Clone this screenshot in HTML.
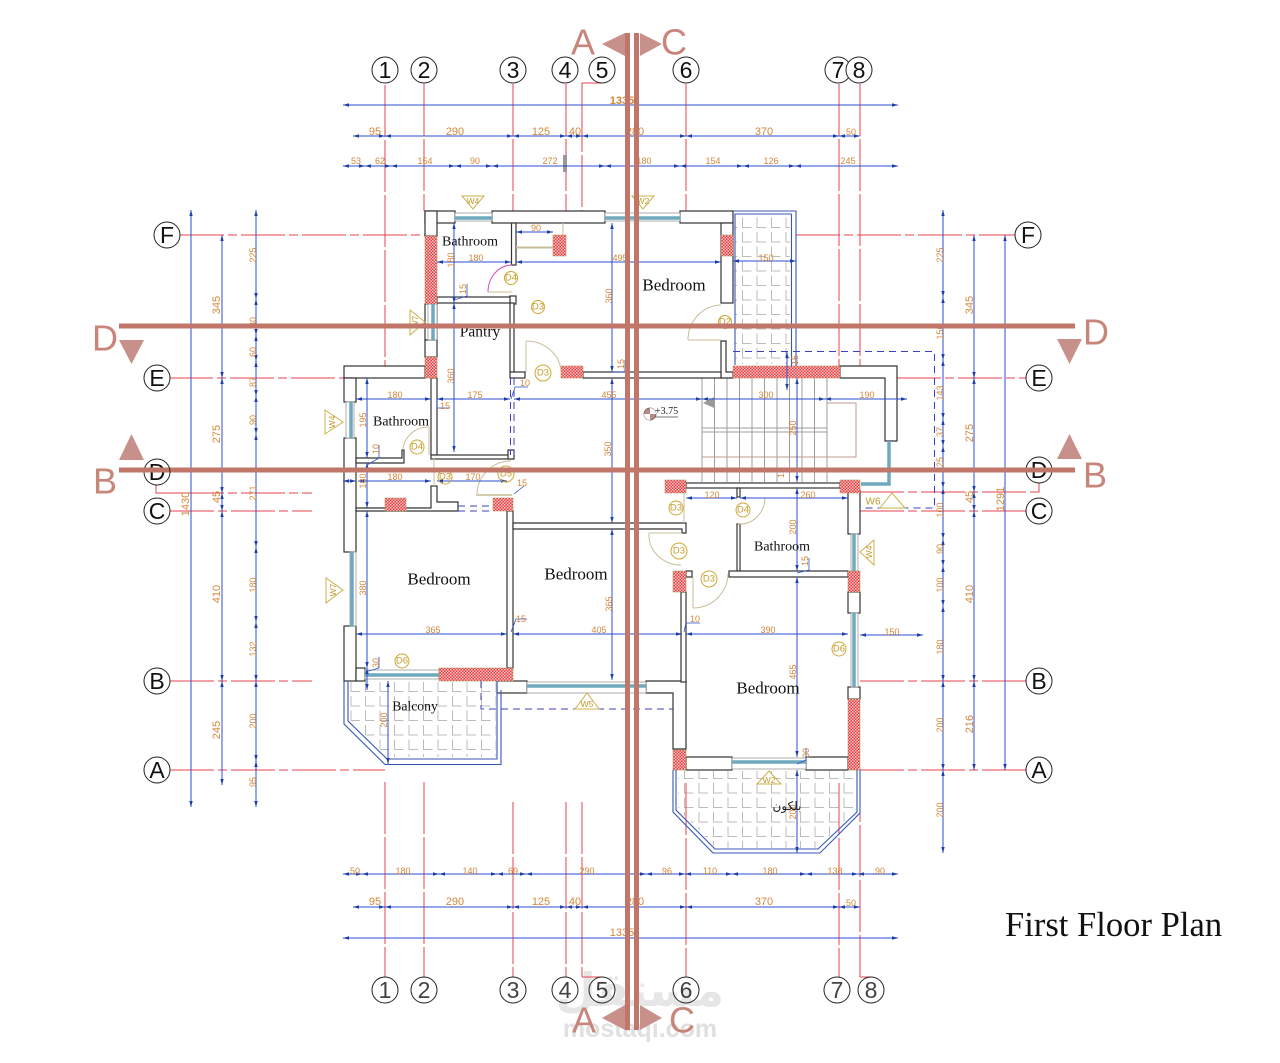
<!DOCTYPE html>
<html><head><meta charset="utf-8"><style>
html,body{margin:0;padding:0;background:#fff}
svg{display:block}
text{font-family:"Liberation Sans",sans-serif}
.g line,.g polyline{stroke:#e8404f;stroke-width:1;fill:none;stroke-dasharray:44 4 9 4}
.g.vv line{stroke-dasharray:52 3}
.g polyline.s,.g line.s{stroke-dasharray:none}
.d line{stroke:#2b4fd2;stroke-width:1;marker-start:url(#a);marker-end:url(#a)}
.v text,.vl text{fill:#d4873a;text-anchor:middle;dominant-baseline:central}
.v text{font-size:9px}
.vl text{font-size:11px}
.gc circle{fill:#fff;stroke:#222;stroke-width:1}
.gc text{font-size:23px;fill:#111;text-anchor:middle;dominant-baseline:central}
.w rect,.w path{fill:#fff;stroke:#333;stroke-width:1.2}
.b rect{fill:url(#brick);stroke:#a88850;stroke-width:.5}
.win line,.win polyline{stroke:#6fa9bd;stroke-width:3.5;fill:none}
.win2 rect{fill:#fff;stroke:#999;stroke-width:.8}
.bal{fill:none;stroke:#3457b8;stroke-width:1.1}
.door path,.door line{fill:none;stroke:#c9bd98;stroke-width:1}
.tag circle{fill:none;stroke:#cda935;stroke-width:1}
.tag text{font-size:9.5px;fill:#c69c2c;text-anchor:middle;dominant-baseline:central}
.tri polygon{fill:#fff;stroke:#cbb04a;stroke-width:1}
.tri text{font-size:8.5px;fill:#c39a2c;text-anchor:middle;dominant-baseline:central}
.room text{font-family:"Liberation Serif",serif;fill:#111;text-anchor:middle;dominant-baseline:central}
.sec{fill:#c0776a}
.tr{fill:#c8908a}
.st text{font-size:36px;fill:#c8857a;text-anchor:middle;dominant-baseline:central}
.lead polyline{fill:none;stroke:#2b4fd2;stroke-width:.8}
</style></head><body>
<svg width="1280" height="1063" viewBox="0 0 1280 1063" xmlns="http://www.w3.org/2000/svg">
<defs>
<marker id="a" markerUnits="userSpaceOnUse" markerWidth="6" markerHeight="4" refX="6" refY="2" orient="auto-start-reverse"><path d="M0,0.3 L6,2 L0,3.7 z" fill="#1f3fa8"/></marker>
<pattern id="brick" width="3" height="3" patternUnits="userSpaceOnUse"><rect width="3" height="3" fill="#e63a3e"/><rect x="0" y="0" width="1.4" height="1.4" fill="#ffd8d8"/><rect x="1.5" y="1.5" width="1.4" height="1.4" fill="#ffd8d8"/></pattern>
<pattern id="tile" width="14.5" height="14.5" patternUnits="userSpaceOnUse"><path d="M3,0 V10 H12" fill="none" stroke="#bcbcbc" stroke-width="1"/></pattern>
</defs>
<rect width="1280" height="1063" fill="#fff"/>

<!-- watermark -->
<text x="640" y="1006" font-size="46" font-weight="bold" text-anchor="middle" fill="#e6e6e6" style="font-family:'DejaVu Sans',sans-serif">مستقل</text>
<text x="640" y="1037" font-size="25" font-weight="bold" text-anchor="middle" fill="#e0e0e0">mostaqi.com</text>

<!-- balcony tiles -->
<rect x="735" y="214" width="55" height="150" fill="url(#tile)"/>
<polygon points="350,682 350,720 388,757 496,757 496,682" fill="url(#tile)"/>
<polygon points="678,771 678,809 716,848 817,848 855,811 855,771" fill="url(#tile)"/>

<!-- grid lines -->
<g class="g vv">
<line x1="385" y1="85" x2="385" y2="366"/><line x1="424" y1="84" x2="424" y2="211"/><line x1="513" y1="84" x2="513" y2="211"/><line x1="566" y1="84" x2="566" y2="211"/><polyline class="s" points="602,83 582,83 582,100"/><line x1="582" y1="100" x2="582" y2="211"/><line x1="686" y1="84" x2="686" y2="211"/><line x1="839" y1="84" x2="839" y2="366"/><line x1="860" y1="84" x2="860" y2="366"/>
<line x1="385" y1="782" x2="385" y2="977"/><line x1="424" y1="782" x2="424" y2="977"/><line x1="513" y1="802" x2="513" y2="977"/><line x1="566" y1="802" x2="566" y2="977"/><line x1="582" y1="802" x2="582" y2="977"/><polyline class="s" points="582,977 602,977"/><line x1="686" y1="783" x2="686" y2="977"/><line x1="839" y1="783" x2="839" y2="977"/><line x1="860" y1="770" x2="860" y2="977"/><polyline class="s" points="860,977 872,977"/>
</g>
<g class="g">
<line x1="180" y1="235" x2="425" y2="235"/><line x1="796" y1="235" x2="1015" y2="235"/>
<line x1="169" y1="378" x2="344" y2="378"/><line x1="897" y1="378" x2="1027" y2="378"/>
<polyline class="s" points="156,485 156,493 180,493"/><line x1="180" y1="493" x2="312" y2="493"/><line x1="860" y1="492" x2="1030" y2="492"/><polyline class="s" points="1030,492 1039,492 1039,483"/>
<line x1="170" y1="511" x2="312" y2="511"/><line x1="860" y1="511" x2="1027" y2="511"/>
<line x1="170" y1="681" x2="312" y2="681"/><line x1="860" y1="681" x2="1027" y2="681"/>
<line x1="170" y1="770" x2="385" y2="770"/><line x1="860" y1="770" x2="1027" y2="770"/>
</g>

<!-- stairs -->
<g stroke="#a29d98" stroke-width="1" fill="none">
<path d="M702,378V482M714.5,378V482M727,378V482M739.5,378V482M752,378V482M764.5,378V482M777,378V482M789.5,378V482M802,378V482M814.5,378V482M827,378V482"/>
<path d="M702,428H827M702,432H827"/>
<path stroke="#bd9c92" d="M827,403H856V457H702"/>
</g>
<polygon points="703,403 714,397 714,408" fill="#9a9a9a"/>

<!-- walls -->
<g class="w">
<rect x="425" y="211" width="30" height="12"/><rect x="492" y="211" width="113" height="12"/><rect x="680" y="211" width="53" height="12"/>
<rect x="425" y="211" width="12" height="25"/>
<rect x="721" y="223" width="12" height="80"/>
<path d="M721,341H726V372H733V378H721z"/>
<rect x="511.5" y="223" width="4.5" height="42"/>
<rect x="437" y="297" width="74" height="6"/><rect x="510" y="296" width="6" height="8"/>
<rect x="510" y="303" width="4" height="69"/>
<rect x="510" y="372" width="15" height="6"/>
<rect x="583" y="372" width="138" height="6"/>
<rect x="425" y="304" width="12" height="36" fill="#fff"/>
<rect x="425" y="340" width="12" height="17"/>
<rect x="431" y="378" width="6" height="77"/>
<rect x="431" y="455" width="82" height="4"/><rect x="508" y="450" width="6" height="9"/>
<rect x="344" y="366" width="81" height="12"/>
<rect x="344" y="378" width="12" height="24"/>
<rect x="344" y="438" width="12" height="114"/>
<path d="M356,458H402V450H404V463H356z"/>
<path d="M431,486H437V502H458V511H356V508H431z"/>
<rect x="344" y="626" width="12" height="55"/><rect x="356" y="668" width="9" height="13"/>
<rect x="507" y="511" width="6" height="157"/>
<path d="M513,523H686V533H682V529H513z"/>
<rect x="497" y="681" width="30" height="12"/>
<path d="M646,681H686V749H673V693H646z"/>
<rect x="681" y="592" width="5" height="90"/>
<rect x="686" y="757" width="46" height="13"/><rect x="806" y="757" width="42" height="13"/>
<rect x="686" y="483" width="154" height="5"/>
<rect x="737" y="488" width="3" height="9"/><rect x="737" y="524" width="3" height="47"/>
<rect x="729" y="571" width="119" height="6"/>
<rect x="686" y="571" width="6" height="6"/>
<rect x="848" y="490" width="12" height="44"/>
<rect x="848" y="592" width="12" height="21"/><rect x="848" y="687" width="12" height="12"/>
<path d="M840,366H897V441H885V378H840z"/>
</g>
<!-- windows -->
<g class="win2">
<rect x="455" y="213" width="37" height="8"/><rect x="605" y="213" width="75" height="8"/>
<rect x="428" y="304" width="9" height="36"/><rect x="346" y="402" width="8" height="36"/><rect x="350" y="552" width="6" height="74"/>
<rect x="365" y="670" width="74" height="9"/><rect x="527" y="682" width="119" height="11"/><rect x="732" y="758" width="74" height="11"/>
<rect x="851" y="534" width="7" height="37"/><rect x="851" y="613" width="7" height="74"/>
</g>
<g class="win">
<line x1="455" y1="218" x2="492" y2="218"/><line x1="605" y1="218" x2="680" y2="218"/>
<line x1="433" y1="304" x2="433" y2="340"/><line x1="351" y1="402" x2="351" y2="438"/><line x1="352" y1="552" x2="352" y2="626"/>
<line x1="365" y1="675" x2="439" y2="675"/><line x1="527" y1="686" x2="646" y2="686"/><line x1="732" y1="762" x2="806" y2="762"/>
<line x1="854" y1="534" x2="854" y2="571"/><line x1="854" y1="613" x2="854" y2="687"/>
<polyline points="889,441 889,484 861,484"/>
</g>
<!-- bricks -->
<g class="b">
<rect x="425" y="236" width="12" height="68"/><rect x="425" y="357" width="12" height="21"/>
<rect x="553" y="235" width="13" height="21"/><rect x="721" y="235" width="12" height="21"/>
<rect x="561" y="366" width="22" height="12"/><rect x="733" y="366" width="107" height="12"/>
<rect x="385" y="498" width="21" height="13"/><rect x="493" y="498" width="20" height="13"/>
<rect x="439" y="668" width="74" height="13"/>
<rect x="665" y="480" width="21" height="13"/><rect x="840" y="480" width="20" height="13"/>
<rect x="673" y="571" width="13" height="21"/><rect x="673" y="750" width="13" height="20"/>
<rect x="848" y="571" width="12" height="21"/><rect x="848" y="699" width="12" height="71"/>
</g>
<!-- balconies outline -->
<path class="bal" d="M733,211H796V366M791.5,214H735V365M791.5,214V366"/>
<path class="bal" d="M344,681V724L385,764.5H501V690M348,681V721L387,759H497V681"/>
<path class="bal" d="M673,770V812L713,853H820L860,813V770M676,770V810L715,849H818L857,812V770"/>
<!-- dashed -->
<g fill="none" stroke="#3b3fc0" stroke-width="1" stroke-dasharray="7 5">
<path d="M733,351.5H934.5V508H860"/>
<path d="M481,681V709H673"/>
<path d="M510.5,378V455M514,378V455"/>
<path d="M458,506H493M458,511H493"/>
</g>
<!-- doors -->
<g class="door">
<path d="M488,292A24,27 0 0 1 512,265" style="stroke:#c94fc0"/><line x1="488" y1="292" x2="512" y2="292"/>
<path d="M526,341A35,32 0 0 1 561,372"/><line x1="526" y1="341" x2="526" y2="372"/>
<path d="M721,305A34,35 0 0 0 688,340"/><line x1="688" y1="340" x2="721" y2="340"/>
<path d="M403,450A26,24 0 0 1 429,427"/><line x1="429" y1="427" x2="429" y2="455"/>
<line x1="434" y1="458" x2="434" y2="486"/>
<path d="M477,494A34,34 0 0 1 511,461"/><line x1="476" y1="495" x2="512" y2="495" style="stroke:#a89a60"/>
<path d="M516,248H553M563,223V235M553,247H516"/>
<path d="M649,533A32,30 0 0 0 681,565"/>
<line x1="649" y1="533" x2="682" y2="533"/>
<path d="M693,608A35,35 0 0 0 728,574"/><line x1="693" y1="577" x2="693" y2="608"/>
<path d="M765,498A25,27 0 0 1 738,524"/>
<line x1="684" y1="493" x2="684" y2="523"/>
</g>
<!-- dimensions horizontal -->
<g class="d">
<line x1="343" y1="105" x2="898" y2="105"/>
<line x1="353" y1="136" x2="385" y2="136"/><line x1="385" y1="136" x2="513" y2="136"/><line x1="513" y1="136" x2="566" y2="136"/><line x1="566" y1="136" x2="582" y2="136"/><line x1="582" y1="136" x2="686" y2="136"/><line x1="686" y1="136" x2="839" y2="136"/><line x1="839" y1="136" x2="860" y2="136"/>
<line x1="343" y1="166" x2="365" y2="166"/><line x1="365" y1="166" x2="391" y2="166"/><line x1="391" y1="166" x2="455" y2="166"/><line x1="455" y1="166" x2="492" y2="166"/><line x1="492" y1="166" x2="605" y2="166"/><line x1="605" y1="166" x2="680" y2="166"/><line x1="680" y1="166" x2="743" y2="166"/><line x1="743" y1="166" x2="795" y2="166"/><line x1="795" y1="166" x2="898" y2="166"/>
<line x1="343" y1="874" x2="362" y2="874"/><line x1="362" y1="874" x2="439" y2="874"/><line x1="439" y1="874" x2="497" y2="874"/><line x1="497" y1="874" x2="526" y2="874"/><line x1="526" y1="874" x2="646" y2="874"/><line x1="646" y1="874" x2="685" y2="874"/><line x1="685" y1="874" x2="732" y2="874"/><line x1="732" y1="874" x2="806" y2="874"/><line x1="806" y1="874" x2="858" y2="874"/><line x1="858" y1="874" x2="898" y2="874"/>
<line x1="353" y1="907" x2="385" y2="907"/><line x1="385" y1="907" x2="513" y2="907"/><line x1="513" y1="907" x2="566" y2="907"/><line x1="566" y1="907" x2="582" y2="907"/><line x1="582" y1="907" x2="686" y2="907"/><line x1="686" y1="907" x2="839" y2="907"/><line x1="839" y1="907" x2="860" y2="907"/>
<line x1="343" y1="938" x2="898" y2="938"/>
<!-- left verticals -->
<line x1="191" y1="210" x2="191" y2="807"/>
<line x1="222" y1="235" x2="222" y2="378"/><line x1="222" y1="378" x2="222" y2="493"/><line x1="222" y1="493" x2="222" y2="511"/><line x1="222" y1="511" x2="222" y2="681"/><line x1="222" y1="681" x2="222" y2="785"/>
<line x1="256" y1="210" x2="256" y2="299"/><line x1="256" y1="299" x2="256" y2="335"/><line x1="256" y1="335" x2="256" y2="361"/><line x1="256" y1="361" x2="256" y2="396"/><line x1="256" y1="396" x2="256" y2="434"/><line x1="256" y1="434" x2="256" y2="547"/><line x1="256" y1="547" x2="256" y2="622"/><line x1="256" y1="622" x2="256" y2="681"/><line x1="256" y1="681" x2="256" y2="761"/><line x1="256" y1="761" x2="256" y2="807"/>
<!-- right verticals -->
<line x1="943" y1="210" x2="943" y2="297"/><line x1="943" y1="297" x2="943" y2="360"/><line x1="943" y1="360" x2="943" y2="419"/><line x1="943" y1="419" x2="943" y2="446"/><line x1="943" y1="446" x2="943" y2="488"/><line x1="943" y1="488" x2="943" y2="539"/><line x1="943" y1="539" x2="943" y2="566"/><line x1="943" y1="566" x2="943" y2="606"/><line x1="943" y1="606" x2="943" y2="681"/><line x1="943" y1="681" x2="943" y2="770"/><line x1="943" y1="770" x2="943" y2="853"/>
<line x1="974" y1="235" x2="974" y2="378"/><line x1="974" y1="378" x2="974" y2="492"/><line x1="974" y1="492" x2="974" y2="511"/><line x1="974" y1="511" x2="974" y2="681"/><line x1="974" y1="681" x2="974" y2="770"/>
<line x1="1005" y1="235" x2="1005" y2="770"/>
<!-- interior -->
<line x1="437" y1="262" x2="511" y2="262"/><line x1="516" y1="262" x2="721" y2="262"/><line x1="733" y1="261" x2="796" y2="261"/>
<line x1="516" y1="232" x2="553" y2="232"/>
<line x1="454" y1="223" x2="454" y2="303"/><line x1="454" y1="303" x2="454" y2="452"/>
<line x1="612" y1="223" x2="612" y2="372"/><line x1="612" y1="378" x2="612" y2="523"/><line x1="612" y1="529" x2="612" y2="680"/>
<line x1="356" y1="399" x2="431" y2="399"/><line x1="437" y1="399" x2="510" y2="399"/><line x1="514" y1="399" x2="702" y2="399"/><line x1="702" y1="399" x2="825" y2="399"/><line x1="825" y1="399" x2="907" y2="399"/>
<line x1="367" y1="378" x2="367" y2="458"/><line x1="367" y1="463" x2="367" y2="508"/><line x1="367" y1="511" x2="367" y2="668"/><line x1="367" y1="668" x2="367" y2="690"/>
<line x1="343" y1="481" x2="356" y2="481"/><line x1="358" y1="481" x2="431" y2="481"/><line x1="437" y1="481" x2="507" y2="481"/>
<line x1="356" y1="634" x2="507" y2="634"/><line x1="513" y1="634" x2="682" y2="634"/><line x1="686" y1="634" x2="848" y2="634"/>
<line x1="860" y1="635" x2="923" y2="635"/>
<line x1="388" y1="681" x2="388" y2="764"/>
<line x1="797" y1="378" x2="797" y2="482"/><line x1="797" y1="488" x2="797" y2="571"/><line x1="797" y1="577" x2="797" y2="757"/><line x1="797" y1="770" x2="797" y2="853"/>
<line x1="787" y1="352" x2="787" y2="390"/>
<line x1="686" y1="498" x2="737" y2="498"/><line x1="740" y1="498" x2="848" y2="498"/>
</g>
<line x1="564" y1="155" x2="564" y2="172" stroke="#333"/><line x1="566" y1="155" x2="566" y2="172" stroke="#333"/>
<g class="lead">
<polyline points="454,300 467,296 467,284"/><polyline points="612,372 625,372 625,360"/>
<polyline points="511,399 515,387 528,387"/><polyline points="437,399 437,408 450,408"/>
<polyline points="367,465 379,458 379,445"/><polyline points="514,494 524,486"/>
<polyline points="511,632 516,619 527,619"/><polyline points="684,632 686,623 700,623"/>
<polyline points="365,672 379,668 379,657"/><polyline points="797,573 809,570 809,558"/>
<polyline points="797,764 806,760 806,748"/>
</g>

<!-- small dimension text -->
<g class="v">
<text x="356" y="161">53</text><text x="380" y="161">62</text><text x="425" y="161">154</text><text x="475" y="161">90</text><text x="550" y="161">272</text><text x="644" y="161">180</text><text x="713" y="161">154</text><text x="771" y="161">126</text><text x="848" y="161">245</text>
<text x="355" y="871">50</text><text x="403" y="871">180</text><text x="470" y="871">140</text><text x="513" y="871">69</text><text x="587" y="871">290</text><text x="667" y="871">96</text><text x="710" y="871">110</text><text x="770" y="871">180</text><text x="835" y="871">138</text><text x="880" y="871">90</text>
<text x="851" y="132">50</text><text x="851" y="903">50</text>
<text x="476" y="258">180</text><text x="620" y="258">495</text><text x="766" y="258">150</text><text x="536" y="228">90</text>
<text x="395" y="395">180</text><text x="475" y="395">175</text><text x="609" y="395">455</text><text x="766" y="395">300</text><text x="867" y="395">190</text>
<text x="395" y="477">180</text><text x="473" y="477">170</text><text x="522" y="483">15</text>
<text x="433" y="630">365</text><text x="599" y="630">405</text><text x="768" y="630">390</text><text x="892" y="632">150</text><text x="521" y="619">15</text><text x="695" y="619">10</text>
<text x="712" y="495">120</text><text x="808" y="495">260</text>
<text x="525" y="383">10</text><text x="445" y="406">15</text>
<text transform="rotate(-90 451 260)" x="451" y="260">180</text><text transform="rotate(-90 463 289)" x="463" y="289">15</text><text transform="rotate(-90 451 376)" x="451" y="376">360</text>
<text transform="rotate(-90 609 296)" x="609" y="296">360</text><text transform="rotate(-90 608 449)" x="608" y="449">350</text><text transform="rotate(-90 609 604)" x="609" y="604">365</text><text transform="rotate(-90 621 364)" x="621" y="364">15</text>
<text transform="rotate(-90 363 420)" x="363" y="420">195</text><text transform="rotate(-90 376 449)" x="376" y="449">10</text><text transform="rotate(-90 363 481)" x="363" y="481">180</text><text transform="rotate(-90 363 588)" x="363" y="588">380</text><text transform="rotate(-90 376 663)" x="376" y="663">30</text>
<text transform="rotate(-90 384 720)" x="384" y="720">200</text>
<text transform="rotate(-90 793 428)" x="793" y="428">250</text><text transform="rotate(-90 793 527)" x="793" y="527">200</text><text transform="rotate(-90 805 561)" x="805" y="561">15</text><text transform="rotate(-90 793 672)" x="793" y="672">465</text><text transform="rotate(-90 806 753)" x="806" y="753">30</text><text transform="rotate(-90 793 812)" x="793" y="812">200</text><text transform="rotate(-90 781 473)" x="781" y="473">15</text><text transform="rotate(-90 795 360)" x="795" y="360">15</text>
<text transform="rotate(-90 253 255)" x="253" y="255">225</text><text transform="rotate(-90 253 322)" x="253" y="322">30</text><text transform="rotate(-90 253 352)" x="253" y="352">60</text><text transform="rotate(-90 253 382)" x="253" y="382">87</text><text transform="rotate(-90 253 420)" x="253" y="420">90</text><text transform="rotate(-90 253 493)" x="253" y="493">271</text><text transform="rotate(-90 253 585)" x="253" y="585">180</text><text transform="rotate(-90 253 649)" x="253" y="649">132</text><text transform="rotate(-90 253 721)" x="253" y="721">200</text><text transform="rotate(-90 253 782)" x="253" y="782">95</text>
<text transform="rotate(-90 940 255)" x="940" y="255">225</text><text transform="rotate(-90 940 332)" x="940" y="332">150</text><text transform="rotate(-90 940 393)" x="940" y="393">143</text><text transform="rotate(-90 940 432)" x="940" y="432">37</text><text transform="rotate(-90 940 462)" x="940" y="462">25</text><text transform="rotate(-90 940 510)" x="940" y="510">100</text><text transform="rotate(-90 940 549)" x="940" y="549">90</text><text transform="rotate(-90 940 585)" x="940" y="585">100</text><text transform="rotate(-90 940 647)" x="940" y="647">180</text><text transform="rotate(-90 940 725)" x="940" y="725">200</text><text transform="rotate(-90 940 810)" x="940" y="810">200</text>
</g>
<g class="vl">
<text x="622" y="101" font-weight="bold">1335</text><text x="622" y="933">1335</text>
<text x="375" y="132">95</text><text x="455" y="132">290</text><text x="541" y="132">125</text><text x="575" y="132">40</text><text x="635" y="132">280</text><text x="764" y="132">370</text>
<text x="375" y="902">95</text><text x="455" y="902">290</text><text x="541" y="902">125</text><text x="575" y="902">40</text><text x="635" y="902">280</text><text x="764" y="902">370</text>
<text transform="rotate(-90 217 305)" x="217" y="305">345</text><text transform="rotate(-90 217 434)" x="217" y="434">275</text><text transform="rotate(-90 217 497)" x="217" y="497">45</text><text transform="rotate(-90 217 594)" x="217" y="594">410</text><text transform="rotate(-90 217 730)" x="217" y="730">245</text>
<text transform="rotate(-90 186 504)" x="186" y="504">1430</text>
<text transform="rotate(-90 970 305)" x="970" y="305">345</text><text transform="rotate(-90 970 433)" x="970" y="433">275</text><text transform="rotate(-90 970 497)" x="970" y="497">45</text><text transform="rotate(-90 970 594)" x="970" y="594">410</text><text transform="rotate(-90 970 724)" x="970" y="724">216</text>
<text transform="rotate(-90 1001 499)" x="1001" y="499">1291</text>
</g>

<!-- door tags -->
<g class="tag">
<circle cx="511" cy="278" r="6.5"/><text x="511" y="278">D4</text>
<circle cx="538" cy="307" r="6.5"/><text x="538" y="307">D3</text>
<circle cx="725" cy="322" r="6.5"/><text x="725" y="322">D2</text>
<circle cx="543" cy="373" r="8"/><text x="543" y="373">D3</text>
<circle cx="417" cy="447" r="7"/><text x="417" y="447">D4</text>
<circle cx="445" cy="477" r="7"/><text x="445" y="477">D3</text>
<circle cx="506" cy="474" r="8"/><text x="506" y="474">D5</text>
<circle cx="402" cy="661" r="7"/><text x="402" y="661">D6</text>
<circle cx="676" cy="508" r="7"/><text x="676" y="508">D3</text>
<circle cx="743" cy="510" r="7"/><text x="743" y="510">D4</text>
<circle cx="679" cy="551" r="8"/><text x="679" y="551">D3</text>
<circle cx="709" cy="579" r="8"/><text x="709" y="579">D3</text>
<circle cx="839" cy="649" r="7"/><text x="839" y="649">D6</text>
</g>
<!-- window tags -->
<g class="tri">
<polygon points="462,196 484,196 473,209"/><text x="473" y="201">W4</text>
<polygon points="632,196 654,196 643,209"/><text x="643" y="201">W2</text>
<polygon points="410,310 410,335 425,322"/><text x="415" y="322" transform="rotate(-90 415 322)">W7</text>
<polygon points="325,410 325,434 343,422"/><text x="332" y="422" transform="rotate(-90 332 422)">W4</text>
<polygon points="326,578 326,603 343,590"/><text x="333" y="590" transform="rotate(-90 333 590)">W7</text>
<polygon points="575,709 587,693 599,709"/><text x="587" y="704">W5</text>
<polygon points="880,508 892,493 905,508"/><text x="873" y="502" style="font-size:10px">W6</text>
<polygon points="860,552 874,540 874,565"/><text x="869" y="552" transform="rotate(-90 869 552)">W4</text>
<polygon points="757,784 769,771 781,784"/><text x="769" y="780">W2</text>
</g>

<!-- room labels -->
<g class="room">
<text x="470" y="242" font-size="14">Bathroom</text>
<text x="401" y="422" font-size="14">Bathroom</text>
<text x="782" y="547" font-size="14">Bathroom</text>
<text x="480" y="332" font-size="15.5">Pantry</text>
<text x="674" y="285" font-size="17">Bedroom</text>
<text x="439" y="579" font-size="17">Bedroom</text>
<text x="576" y="574" font-size="17">Bedroom</text>
<text x="768" y="688" font-size="17">Bedroom</text>
<text x="415" y="706" font-size="13.7">Balcony</text>
</g>
<text x="787" y="806" font-size="12" text-anchor="middle" dominant-baseline="central" fill="#222" style="font-family:'DejaVu Sans',sans-serif">بلكون</text>
<!-- level -->
<circle cx="650" cy="414" r="6" fill="#b98a86" stroke="#6d5a58" stroke-width=".8"/>
<path d="M650,414V408A6,6 0 0 1 656,414z M650,414V420A6,6 0 0 1 644,414z" fill="#fff"/>
<text x="655" y="414" font-size="10" fill="#222" style="font-family:'Liberation Serif',serif">+3.75</text>
<line x1="655" y1="417" x2="678" y2="417" stroke="#444" stroke-width=".8"/>

<text x="1005" y="936" font-size="34.6" fill="#111" style="font-family:'Liberation Serif',serif">First Floor Plan</text>

<!-- section lines -->
<rect class="sec" x="625" y="33" width="5" height="997"/><rect class="sec" x="634" y="33" width="5" height="997"/>
<rect class="sec" x="119" y="323.5" width="956" height="5"/><rect class="sec" x="119" y="467.5" width="956" height="5"/>
<polygon class="tr" points="602,44 625,33 625,56"/><polygon class="tr" points="640,33 662,44 640,56"/>
<polygon class="tr" points="602,1018 625,1005 625,1030"/><polygon class="tr" points="640,1005 662,1018 640,1030"/>
<polygon class="tr" points="119,340 144,340 131.5,364"/><polygon class="tr" points="119,460 144,460 131.5,434"/>
<polygon class="tr" points="1057,339 1082,339 1069.5,364"/><polygon class="tr" points="1057,459 1082,459 1069.5,434"/>
<g class="st">
<text x="583" y="42">A</text><text x="674" y="42">C</text><text x="584" y="1020">A</text><text x="682" y="1020">C</text>
<text x="105" y="338">D</text><text x="105" y="481">B</text><text x="1096" y="332">D</text><text x="1095" y="475">B</text>
</g>

<!-- grid circles -->
<g class="gc">
<circle cx="385" cy="70" r="13"/><text x="385" y="70">1</text>
<circle cx="424" cy="70" r="13"/><text x="424" y="70">2</text>
<circle cx="513" cy="70" r="13"/><text x="513" y="70">3</text>
<circle cx="565" cy="70" r="13"/><text x="565" y="70">4</text>
<circle cx="602" cy="70" r="13"/><text x="602" y="70">5</text>
<circle cx="686" cy="70" r="13"/><text x="686" y="70">6</text>
<circle cx="838" cy="70" r="13"/><text x="838" y="70">7</text>
<circle cx="859" cy="70" r="13"/><text x="859" y="70">8</text>
<g fill-opacity=".8"><circle cx="385" cy="990" r="13" style="fill:none"/><text x="385" y="990">1</text>
<circle cx="424" cy="990" r="13" style="fill:none"/><text x="424" y="990">2</text>
<circle cx="513" cy="990" r="13" style="fill:none"/><text x="513" y="990">3</text>
<circle cx="565" cy="990" r="13" style="fill:none"/><text x="565" y="990">4</text>
<circle cx="602" cy="990" r="13" style="fill:none"/><text x="602" y="990">5</text>
<circle cx="686" cy="990" r="13" style="fill:none"/><text x="686" y="990">6</text>
<circle cx="837" cy="990" r="13" style="fill:none"/><text x="837" y="990">7</text>
<circle cx="871" cy="990" r="13" style="fill:none"/><text x="871" y="990">8</text></g>
<circle cx="167" cy="235" r="13"/><text x="167" y="235">F</text>
<circle cx="157" cy="378" r="13"/><text x="157" y="378">E</text>
<circle cx="157" cy="511" r="13"/><text x="157" y="511">C</text>
<circle cx="157" cy="681" r="13"/><text x="157" y="681">B</text>
<circle cx="157" cy="770" r="13"/><text x="157" y="770">A</text>
<circle cx="1028" cy="235" r="13"/><text x="1028" y="235">F</text>
<circle cx="1039" cy="378" r="13"/><text x="1039" y="378">E</text>
<circle cx="1039" cy="511" r="13"/><text x="1039" y="511">C</text>
<circle cx="1039" cy="681" r="13"/><text x="1039" y="681">B</text>
<circle cx="1039" cy="770" r="13"/><text x="1039" y="770">A</text>
<circle cx="157" cy="472" r="13" style="fill:none"/><text x="157" y="472">D</text>
<circle cx="1039" cy="470" r="13" style="fill:none"/><text x="1039" y="470">D</text>
</g>
<rect class="sec" x="119" y="467.5" width="50" height="5"/><rect class="sec" x="1025" y="467.5" width="50" height="5"/>
</svg>
</body></html>
